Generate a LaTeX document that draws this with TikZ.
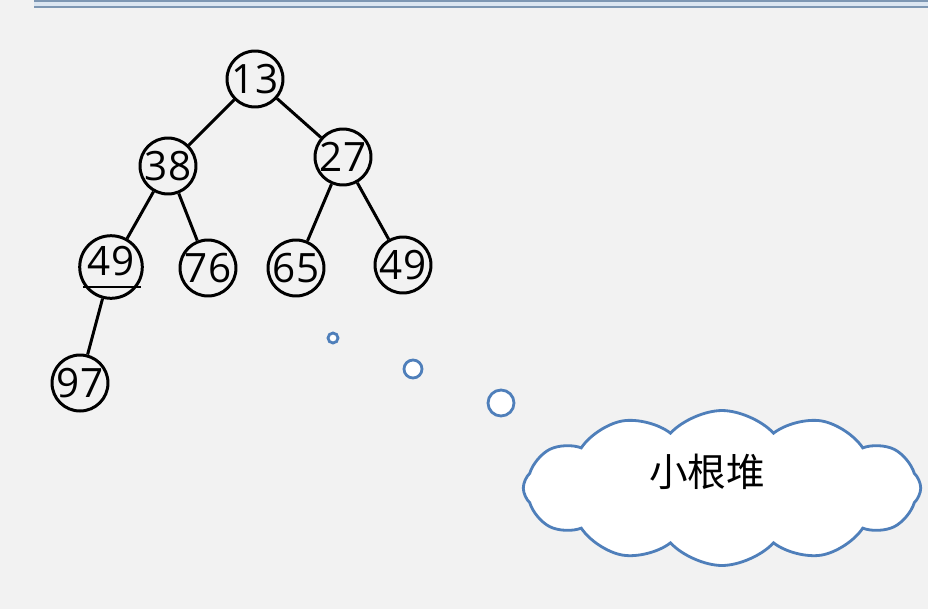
\documentclass[tikz,border=0pt]{standalone}
\usepackage{fontspec}
\setmainfont{Open Sans}
\newfontfamily\cjkfont{Noto Sans CJK SC}
\usepackage{tikz}
\usetikzlibrary{shapes,shapes.symbols}
\definecolor{bggray}{HTML}{F2F2F2}
\definecolor{bubble}{HTML}{4F7FBA}
\definecolor{rulecol}{HTML}{7E97B3}
\definecolor{rulefill}{HTML}{DCE6F1}
\tikzstyle{heapnode} = [draw, circle, line width=1.7pt,
    minimum size=1.12cm, inner sep=0pt, font=\fontsize{23}{23}\selectfont]
\tikzstyle{edge} = [line width=1.7pt]
\tikzstyle{puff} = [draw=bubble, fill=white, circle, line width=1.6pt, inner sep=0pt]
\tikzstyle{thought} = [draw=bubble, fill=white, cloud, cloud puffs=12,
    cloud puff arc=95, aspect=2.6, line width=1.6pt,
    minimum width=7.95cm, minimum height=3.1cm]
\newcommand{\dupmark}[1]{\setbox0\hbox{#1}%
    \rlap{\hspace{-0.12em}\rule[-0.32em]{\dimexpr\wd0+0.3em\relax}{0.05em}}#1}

\begin{document}
\begin{tikzpicture}[x=0.02cm, y=-0.02cm]
	\fill [bggray] (0,0) rectangle (928,609);
	\useasboundingbox (0,0) rectangle (928,609);
% Top rule
	\fill [rulefill] (34,1) rectangle (928,7);
	\draw [rulecol, line width=1pt] (34,1) -- (928,1) (34,7) -- (928,7);
% Nodes
	\node [heapnode] (n13) at (255,79) {13};
	\node [heapnode] (n38) at (168,166) {38};
	\node [heapnode] (n27) at (343,157) {27};
	\node [heapnode] (n49a) at (111,267) {\dupmark{49}};
	\node [heapnode] (n76) at (208,268) {76};
	\node [heapnode] (n65) at (296,268) {65};
	\node [heapnode] (n49b) at (403,265) {49};
	\node [heapnode] (n97) at (80,383) {97};
% Connections
	\draw [edge] (n13) -- (n38);
	\draw [edge] (n13) -- (n27);
	\draw [edge] (n38) -- (n49a);
	\draw [edge] (n38) -- (n76);
	\draw [edge] (n27) -- (n65);
	\draw [edge] (n27) -- (n49b);
	\draw [edge] (n49a) -- (n97);
% Callout
	\node [puff, minimum size=0.2cm] (b1) at (333,338) {};
	\node [puff, minimum size=0.36cm] (b2) at (413,369) {};
	\node [puff, minimum size=0.52cm] (b3) at (501,403) {};
	\node [thought] (cloud) at (722,488) {};
	\node [font=\cjkfont\fontsize{22}{22}\selectfont] (label) at (707,472) {小根堆};
\end{tikzpicture}
\end{document}
